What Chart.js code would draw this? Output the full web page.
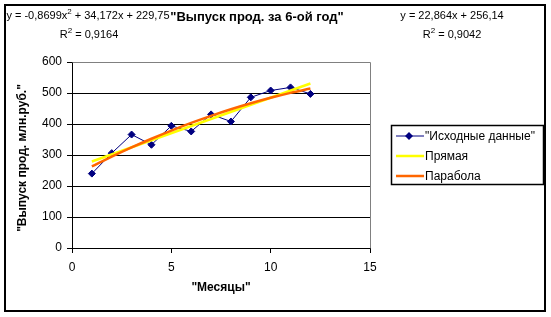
<!DOCTYPE html>
<html>
<head>
<meta charset="utf-8">
<script src="https://cdn.jsdelivr.net/npm/chart.js@4"></script>
<style>
html,body{margin:0;padding:0;background:#fff;}
#wrap{width:551px;height:317px;position:relative;}
</style>
</head>
<body>
<div id="wrap"><canvas id="c" width="551" height="317"></canvas></div>
<script>
// Data
const months = [1,2,3,4,5,6,7,8,9,10,11,12];
const sourceValues = [240,306,366,333,394,376,431,408,486,508,518,497];
const linearX = [1,12];
const linearValues = [279.0,530.5];
const parabolaValues = [263.0,294.6,324.4,352.5,378.9,403.5,426.3,447.5,466.8,484.5,500.4,514.5];
const xTicks = [0,5,10,15];
const yTicks = [0,100,200,300,400,500,600];

const seriesNames = ['"Исходные данные"','Прямая','Парабола'];
const chartTitle = '"Выпуск прод. за 6-ой год"';
const xTitle = '"Месяцы"';
const yTitle = '"Выпуск прод. млн.руб."';
const eqParabola = ['y = -0,8699x', ' + 34,172x + 229,75', 'R', ' = 0,9164'];
const eqLinear = ['y = 22,864x + 256,14', 'R', ' = 0,9042'];

const FONT = '"Liberation Sans", Arial, sans-serif';

const toXY = (xs, ys) => xs.map((x,i)=>({x:x, y:ys[i]}));

const decor = {
  id:'decor',
  beforeDraw(chart){
    const ctx = chart.ctx;
    ctx.save();
    ctx.fillStyle='#fff';
    ctx.fillRect(0,0,chart.width,chart.height);
    ctx.restore();
  },
  afterDatasetsDraw(chart){
    const ctx = chart.ctx, a = chart.chartArea;
    ctx.save();
    ctx.strokeStyle='#808080'; ctx.lineWidth=1;
    ctx.beginPath();
    ctx.moveTo(Math.round(a.left)+0.5, Math.round(a.top)+0.5);
    ctx.lineTo(Math.round(a.right)+0.5, Math.round(a.top)+0.5);
    ctx.lineTo(Math.round(a.right)+0.5, Math.round(a.bottom)+0.5);
    ctx.stroke();
    ctx.strokeStyle='#000';
    ctx.beginPath();
    ctx.moveTo(Math.round(a.left)+0.5, Math.round(a.top)+0.5);
    ctx.lineTo(Math.round(a.left)+0.5, Math.round(a.bottom)+0.5);
    ctx.lineTo(Math.round(a.right)+0.5, Math.round(a.bottom)+0.5);
    ctx.stroke();
    ctx.restore();
  },
  afterDraw(chart){
    const ctx = chart.ctx;
    ctx.save();
    ctx.strokeStyle='#000'; ctx.lineWidth=2;
    ctx.strokeRect(5,5,540,306);
    ctx.fillStyle='#000';
    ctx.font='bold 13px '+FONT;
    ctx.textAlign='center'; ctx.textBaseline='middle';
    ctx.fillText(chartTitle, 257, 17);
    ctx.font='bold 12px '+FONT;
    ctx.fillText(xTitle, 221, 288);
    ctx.save();
    ctx.translate(23,158); ctx.rotate(-Math.PI/2);
    ctx.fillText(yTitle, 0, 0);
    ctx.restore();
    function eqLine(parts, cx, cy, supIdx){
      ctx.font='11px '+FONT;
      const sup='2';
      let w=0;
      parts.forEach(p=>{w+=ctx.measureText(p).width;});
      ctx.font='8px '+FONT; const sw=ctx.measureText(sup).width; ctx.font='11px '+FONT;
      w+=sw*supIdx.length;
      let x=cx-w/2;
      ctx.textAlign='left'; ctx.textBaseline='middle';
      parts.forEach((p,i)=>{
        ctx.font='11px '+FONT;
        ctx.fillText(p,x,cy); x+=ctx.measureText(p).width;
        if(supIdx.includes(i)){
          ctx.font='8px '+FONT; ctx.fillText(sup,x,cy-4); x+=sw;
        }
      });
    }
    eqLine([eqParabola[0],eqParabola[1]], 88, 16, [0]);
    eqLine([eqParabola[2],eqParabola[3]], 89, 35, [0]);
    eqLine([eqLinear[0]], 452, 16, []);
    eqLine([eqLinear[1],eqLinear[2]], 452, 35, [0]);
    ctx.lineWidth=1.5; ctx.strokeStyle='#000';
    ctx.strokeRect(391.5,125.5,152,59);
    const ds = chart.data.datasets;
    const rows=[136,156,176];
    ctx.font='12px '+FONT; ctx.textAlign='left'; ctx.textBaseline='middle';
    [0,1,2].forEach((k,i)=>{
      const d = ds[k]; const y=rows[i];
      ctx.strokeStyle=d.borderColor; ctx.lineWidth=k===0?1:2.5;
      ctx.beginPath(); ctx.moveTo(396,y); ctx.lineTo(424,y); ctx.stroke();
      if(k===0){
        ctx.fillStyle=d.pointBackgroundColor;
        ctx.beginPath(); ctx.moveTo(409,y-4); ctx.lineTo(413,y); ctx.lineTo(409,y+4); ctx.lineTo(405,y); ctx.closePath(); ctx.fill();
      }
      ctx.fillStyle='#000';
      ctx.fillText(d.label, 425, y+0.5);
    });
    ctx.restore();
  }
};

new Chart(document.getElementById('c'), {
  type:'line',
  data:{
    datasets:[
      {label:seriesNames[0], data:toXY(months,sourceValues), borderColor:'#000080', backgroundColor:'#000080',
       pointBackgroundColor:'#000080', pointBorderColor:'#000080', pointStyle:'rectRot', pointRadius:3.5, borderWidth:1, order:3},
      {label:seriesNames[1], data:toXY(linearX,linearValues), borderColor:'#FFFF00', borderWidth:2.5, pointRadius:0, order:2},
      {label:seriesNames[2], data:toXY(months,parabolaValues), borderColor:'#FF6600', borderWidth:2.5, pointRadius:0, tension:0.4, cubicInterpolationMode:'monotone', order:1}
    ]
  },
  options:{
    responsive:false, animation:false, devicePixelRatio:1,
    layout:{padding:{left:0, top:62, right:181, bottom:0}},
    plugins:{legend:{display:false}, title:{display:false}, tooltip:{enabled:false}},
    scales:{
      x:{type:'linear', min:0, max:15,
        afterFit:(s)=>{s.height=69;},
        afterBuildTicks:(s)=>{s.ticks=xTicks.map(v=>({value:v}));},
        ticks:{color:'#000', font:{family:FONT,size:12}, padding:7, maxRotation:0},
        grid:{drawOnChartArea:false, color:'#000', tickColor:'#000', tickLength:5},
        border:{display:false}},
      y:{min:0, max:600,
        afterFit:(s)=>{s.width=72;},
        afterBuildTicks:(s)=>{s.ticks=yTicks.map(v=>({value:v}));},
        ticks:{color:'#000', font:{family:FONT,size:12}, padding:5},
        grid:{color:(c)=> (c.tick && c.tick.value===600) ? '#808080' : '#000', tickColor:'#000', tickLength:5},
        border:{display:false}}
    }
  },
  plugins:[decor]
});
</script>
</body>
</html>
